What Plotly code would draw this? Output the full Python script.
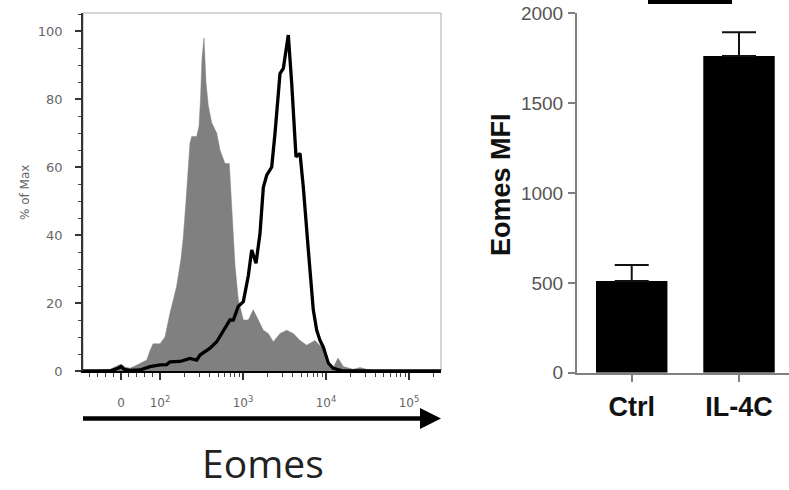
import math
import plotly.graph_objects as go

W, H = 789, 490

# ---------------- data ----------------
# Histogram x positions are in display "decade" units of the biexponential axis
# (10^k sits at k; zero sits in the linear region below 10^2).
ctrl_x = [1.072, 1.277, 1.398, 1.482, 1.530, 1.578, 1.639, 1.699, 1.759, 1.840,
          1.880, 1.916, 2.000, 2.060, 2.120, 2.201, 2.253, 2.281, 2.313, 2.337,
          2.361, 2.382, 2.442, 2.470, 2.488, 2.506, 2.530, 2.554, 2.582, 2.623,
          2.683, 2.723, 2.783, 2.835, 2.864, 2.904, 2.943, 3.004, 3.064, 3.124,
          3.184, 3.245, 3.305, 3.365, 3.446, 3.527, 3.606, 3.687, 3.767, 3.867,
          3.948, 4.008, 4.048, 4.088, 4.145, 4.208, 4.329, 4.410, 4.490, 4.590, 5.386]
ctrl_y = [0, 0.2, 0.5, 1.5, 2.0, 1.2, 0.8, 1.5, 2.3, 3.2,
          6, 8, 8, 10, 17, 25, 33, 39.5, 50, 59,
          67, 69, 69, 72, 80, 92, 98, 85, 78, 73,
          70, 65, 61, 61, 48, 31, 21, 15, 15, 18,
          15, 12, 11, 8.6, 11, 12, 11, 9, 7.6, 9,
          7, 2, 1.5, 1.0, 3.8, 1.3, 0.5, 1.0, 0.5, 0, 0]

il4c_x = [1.072, 1.398, 1.494, 1.530, 1.566, 1.639, 1.759, 1.840, 1.880, 2.000,
          2.081, 2.120, 2.241, 2.361, 2.442, 2.482, 2.602, 2.683, 2.763, 2.843,
          2.883, 2.943, 3.004, 3.064, 3.105, 3.157, 3.205, 3.245, 3.286, 3.346,
          3.386, 3.446, 3.486, 3.546, 3.587, 3.639, 3.687, 3.727, 3.787, 3.847,
          3.888, 3.928, 3.968, 4.028, 4.088, 4.208, 5.386]
il4c_y = [0, 0, 0.8, 1.3, 0.5, 0.2, 0.3, 0.9, 1.3, 1.8,
          1.9, 2.7, 2.8, 3.7, 3.2, 4.7, 6.7, 8.6, 12, 15,
          15, 19, 20.4, 28, 35.6, 31.7, 40.5, 54, 57.6, 60,
          70, 87.5, 89, 98.8, 84.6, 63, 64, 54, 35.6, 18,
          12, 9, 7, 2.3, 0.8, 0, 0]

hist_tick_text = ["0", "10<sup>2</sup>", "10<sup>3</sup>", "10<sup>4</sup>", "10<sup>5</sup>"]
hist_tick_exp = [None, 2, 3, 4, 5]
zero_pos = 1.53

groups = ["Ctrl", "IL-4C"]
mfi = [510, 1763]
mfi_err = [90, 132]

# ---------------- helpers ----------------
def px(x):
    return x / W

def py(y):
    return 1 - y / H

hist_tickvals = [zero_pos if e is None else e for e in hist_tick_exp]
minor_vals = []
for k in range(-4, 5):
    if k != 0:
        minor_vals.append(zero_pos + k * (2 - zero_pos) / 5)
for k in (2, 3, 4, 5):
    for m in range(2, 10):
        v = k + math.log10(m)
        if v < 5.38:
            minor_vals.append(v)

fig = go.Figure()

fig.add_trace(go.Scatter(x=ctrl_x, y=ctrl_y, mode="lines", fill="tozeroy",
                         fillcolor="#808080", line=dict(color="#808080", width=0.5),
                         xaxis="x", yaxis="y", showlegend=False, hoverinfo="skip"))
fig.add_trace(go.Scatter(x=il4c_x, y=il4c_y, mode="lines",
                         line=dict(color="#000000", width=3.3),
                         xaxis="x", yaxis="y", showlegend=False, hoverinfo="skip"))

fig.add_trace(go.Bar(x=groups, y=mfi, width=0.666, marker=dict(color="#000000", line=dict(width=0)),
                     error_y=dict(type="data", array=mfi_err, arrayminus=[0, 0], symmetric=False,
                                  color="#111111", thickness=2, width=17),
                     xaxis="x2", yaxis="y2", showlegend=False))

fig.update_layout(
    width=W, height=H, autosize=False,
    margin=dict(l=0, r=0, t=0, b=0, pad=0, autoexpand=False),
    paper_bgcolor="white", plot_bgcolor="white",
    xaxis=dict(domain=[px(83), px(441)], range=[1.072, 5.386], automargin=False,
               tickmode="array", tickvals=hist_tickvals, ticktext=hist_tick_text,
               ticks="outside", ticklen=7, tickwidth=1.5, tickcolor="#333",
               showline=True, linecolor="#000", linewidth=2,
               showgrid=False, zeroline=False,
               tickfont=dict(family="DejaVu Sans", size=12, color="#666"),
               ticklabelstandoff=13,
               minor=dict(tickmode="array", tickvals=minor_vals, ticks="outside",
                          ticklen=4, tickwidth=1, tickcolor="#444", showgrid=False)),
    yaxis=dict(domain=[py(371), py(13)], range=[0, 105.3], automargin=False,
               tickmode="array", tickvals=[0, 20, 40, 60, 80, 100],
               ticks="outside", ticklen=6, tickwidth=1.5, tickcolor="#333",
               showline=True, linecolor="#333", linewidth=1.5,
               showgrid=False, zeroline=False,
               tickfont=dict(family="DejaVu Sans", size=13, color="#666"),
               ticklabelstandoff=10,
               minor=dict(dtick=5, ticks="outside", ticklen=3, tickwidth=1,
                          tickcolor="#444", showgrid=False)),
    xaxis2=dict(domain=[px(577), 1.0], range=[-0.51, 1.466], type="category", automargin=False,
                ticks="outside", ticklen=7, tickwidth=2, tickcolor="#808080",
                showline=True, linecolor="#808080", linewidth=2,
                showgrid=False, zeroline=False, anchor="y2",
                tickfont=dict(family="Liberation Sans, Arial", size=27, color="#111", weight="bold"),
                ticklabelstandoff=2),
    yaxis2=dict(domain=[py(372.7), py(13.3)], range=[0, 2000], anchor="x2", automargin=False,
                tickmode="array", tickvals=[0, 500, 1000, 1500, 2000],
                ticks="outside", ticklen=7, tickwidth=2, tickcolor="#808080",
                showline=True, linecolor="#808080", linewidth=2,
                showgrid=False, zeroline=False,
                tickfont=dict(family="Liberation Sans, Arial", size=19, color="#555"),
                ticklabelstandoff=1),
    shapes=[
        dict(type="rect", xref="x domain", yref="y domain", x0=0, x1=1, y0=0, y1=1,
             line=dict(color="#aaaaaa", width=1), layer="below"),
        dict(type="line", xref="paper", yref="paper", x0=px(83), x1=px(424),
             y0=py(418.5), y1=py(418.5), line=dict(color="#000", width=4.5)),
        dict(type="path", xref="paper", yref="paper",
             path=f"M {px(420)},{py(408)} L {px(441)},{py(418.5)} L {px(420)},{py(429)} Z",
             fillcolor="#000", line=dict(color="#000", width=0)),
        dict(type="rect", xref="paper", yref="paper", x0=px(648), x1=px(732),
             y0=py(4), y1=1.0, fillcolor="#000", line=dict(width=0)),
    ],
    annotations=[
        dict(text="% of Max", xref="paper", yref="paper", x=px(25), y=py(193),
             showarrow=False, textangle=-90,
             font=dict(family="DejaVu Sans", size=12, color="#666"),
             xanchor="center", yanchor="middle"),
        dict(text="Eomes", xref="paper", yref="paper", x=px(263), y=py(462),
             showarrow=False, font=dict(family="Open Sans", size=39, color="#222"),
             xanchor="center", yanchor="middle", borderpad=0),
        dict(text="Eomes MFI", xref="paper", yref="paper", x=px(501), y=py(185),
             showarrow=False, textangle=-90,
             font=dict(family="Liberation Sans, Arial", size=27, color="#111", weight="bold"),
             xanchor="center", yanchor="middle"),
    ],
)

fig.write_html("out.html", config={"displayModeBar": False},
               post_script="document.body.style.margin='0px';document.body.style.overflow='hidden';")
